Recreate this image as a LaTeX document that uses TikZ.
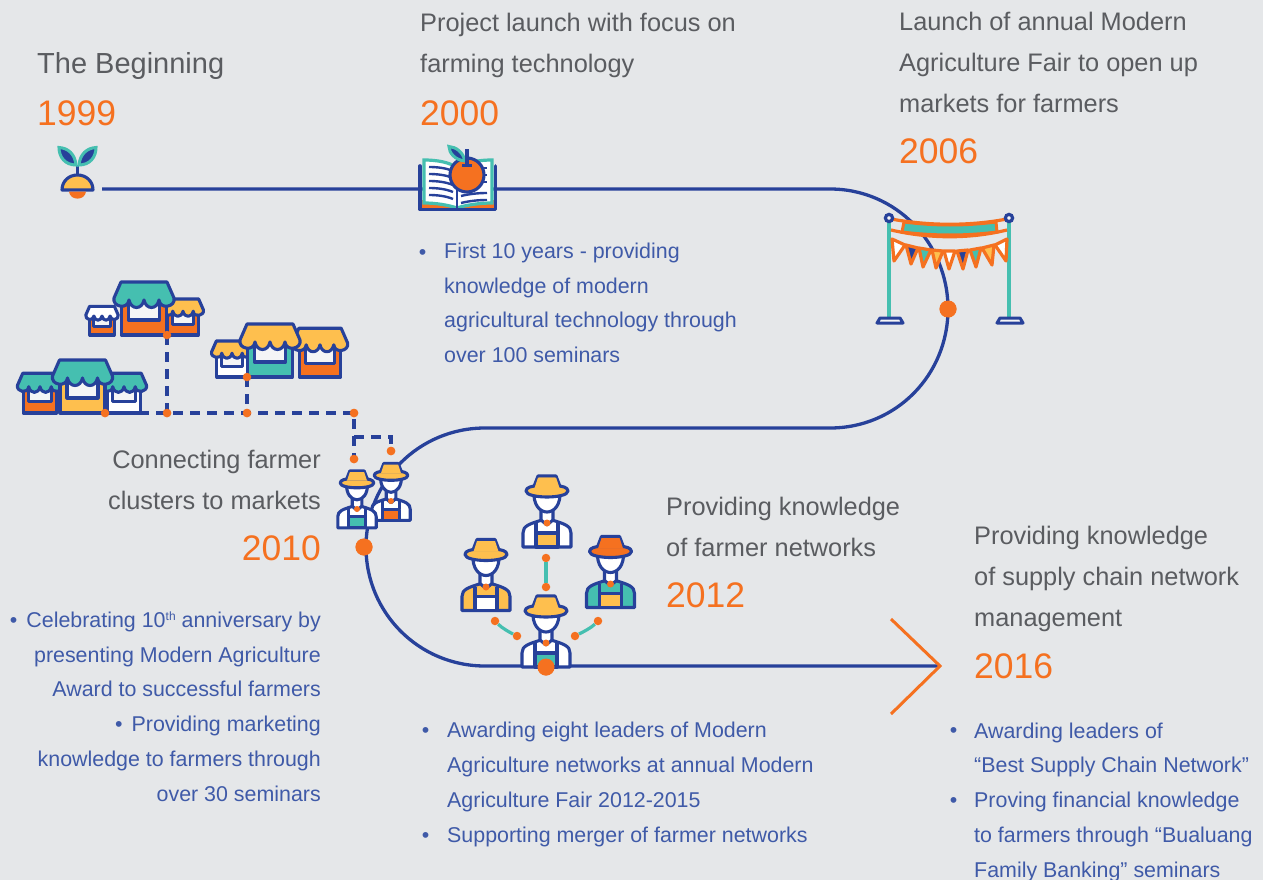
\documentclass[tikz,border=0pt]{standalone}
\usepackage{fontspec}
\setmainfont{Liberation Sans}
\definecolor{bgc}{HTML}{E5E7E9}
\definecolor{navy}{HTML}{27419A}
\definecolor{orng}{HTML}{F57120}
\definecolor{teal2}{HTML}{45BFB0}
\definecolor{yell}{HTML}{FEBF4E}
\definecolor{headc}{HTML}{5A5C60}
\definecolor{bodyc}{HTML}{3F5AA8}
\tikzset{
  headtxt/.style={inner sep=0pt,text=headc,font=\fontsize{25.35}{41}\selectfont},
  yeartxt/.style={inner sep=0pt,text=orng,font=\fontsize{35.5}{41}\selectfont},
  bodytxt/.style={inner sep=0pt,text=bodyc,font=\fontsize{21.4}{34.7}\selectfont},
  bul/.style={inner sep=0pt,text=bodyc,font=\fontsize{21.4}{34.7}\selectfont},
  bigdot/.style={circle,fill=orng,inner sep=0pt,minimum size=17pt},
  smalldot/.style={circle,fill=orng,inner sep=0pt,minimum size=8.5pt},
  mainline/.style={draw=navy,line width=3.3pt},
  dashline/.style={draw=navy,line width=3.2pt,dash pattern=on 10pt off 7pt},
  linkline/.style={draw=teal2,line width=3.2pt},
  icon/.style={draw=navy,line width=3.1pt,line join=round}
}
% shop: x, base y, scale, wall, roof
\newcommand{\shopicon}[5]{%
\begin{scope}[shift={(#1,#2)},scale=#3]
 \path[icon,fill=#4] (-22.5,0) rectangle (22.5,-36);
 \path[icon,fill=bgc!40!white] (-15.5,-36) rectangle (15.5,-15);
 \path[icon,fill=#5] (-23,-53) -- (23,-53) -- (30,-37)
   .. controls (32,-28) and (16,-25) .. (15,-35)
   .. controls (13,-25) and (2,-25) .. (0,-35)
   .. controls (-2,-25) and (-13,-25) .. (-15,-35)
   .. controls (-16,-25) and (-32,-28) .. (-30,-37) -- cycle;
\end{scope}}
% farmer: cx, top y, scale, hat, sleeve/chest, bib
\newcommand{\farmericon}[6]{%
\begin{scope}[shift={(#1,#2)},scale=#3]
 \path[icon,fill=#5] (-24,71) -- (-24,57) .. controls (-24,50) and (-18,48) .. (-5,44)
   -- (5,44) .. controls (18,48) and (24,50) .. (24,57) -- (24,71) -- cycle;
 \path[icon,fill=#6] (-11,57) rectangle (11,71);
 \path[icon] (-11,57) -- (-11,47) (11,57) -- (11,47);
 \path[icon,fill=white] (-6,33) -- (-6,44) -- (0,49) -- (6,44) -- (6,33) -- cycle;
 \path[icon,fill=white] (-13,15) .. controls (-14,29) and (-7,36) .. (0,36)
   .. controls (7,36) and (14,29) .. (13,15) -- cycle;
 \path[icon,fill=#4] (-9,0) -- (9,0) -- (14,13) -- (-14,13) -- cycle;
 \path[icon,fill=#4] (-21,15) .. controls (-21,11) and (-14,10) .. (-11,10) -- (11,10) .. controls (14,10) and (21,11) .. (21,15) .. controls (21,19) and (10,21) .. (0,21) .. controls (-10,21) and (-21,19) .. (-21,15) -- cycle;
 \fill[#4] (-9,1.5) -- (9,1.5) -- (12.5,12) -- (-12.5,12) -- cycle;
\end{scope}}
\begin{document}
\begin{tikzpicture}[x=1pt,y=-1pt]
\useasboundingbox[fill=bgc] (0,0) rectangle (1263,880);

% anchors of the main line
\coordinate (lstart) at (102,189);
\coordinate (b1) at (830,189);
\coordinate (b2) at (830,428);
\coordinate (b3) at (485,428);
\coordinate (b4) at (485,666);
\coordinate (tip) at (940,666);
\coordinate (chevA) at (891,619);
\coordinate (chevB) at (891,714);
\node[bigdot] (d2006) at (948,309) {};
\node[bigdot] (d2010) at (364,547) {};
\node[bigdot] (d2012) at (546,667) {};

\draw[mainline] (lstart) -- (b1)
  .. controls (896,189) and (948,243) .. (d2006.center)
  .. controls (948,375) and (896,428) .. (b2) -- (b3)
  .. controls (419,428) and (366,481) .. (366,547)
  .. controls (366,613) and (419,666) .. (b4) -- (tip);
\draw[draw=orng,line width=3pt] (chevA) -- (tip) -- (chevB);

% dashed network (drawn under the shops)
\node[smalldot] (n1) at (105,413) {};
\node[smalldot] (n2) at (167,413) {};
\node[smalldot] (n3) at (247,413) {};
\node[smalldot] (n4) at (354,413) {};
\node[smalldot] (n5) at (167,335) {};
\node[smalldot] (n6) at (247,377) {};
\node[smalldot] (n7) at (354,459) {};
\node[smalldot] (n8) at (391,451) {};
\coordinate (kneeA) at (354,437);
\coordinate (kneeB) at (391,437);
\draw[dashline] (n1.center) -- (n2.center) -- (n3.center) -- (n4.center) -- (n7.center);
\draw[dashline] (n5.center) -- (n2.center);
\draw[dashline] (n6.center) -- (n3.center);
\draw[dashline] (kneeA) -- (kneeB) -- (n8.center);

% seedling
\path[icon,fill=yell] (62,190) .. controls (62,181) and (69,175) .. (77.5,175) .. controls (86,175) and (93,181) .. (93,190) -- cycle;
\fill[orng] (69,191.5) .. controls (70,201) and (85,201) .. (86,191.5) -- cycle;
\draw[navy,line width=3.2pt] (77.5,175) -- (77.5,165);
\path[draw=teal2,line width=3pt,fill=navy] (76,165) .. controls (75,154) and (68,148) .. (59,147.5) .. controls (59,157) and (65,165) .. (76,165) -- cycle;
\path[draw=teal2,line width=3pt,fill=navy] (79,165) .. controls (80,154) and (87,148) .. (96,147.5) .. controls (96,157) and (90,165) .. (79,165) -- cycle;

% book
\fill[orng] (421,200) rectangle (495,209);
\path[draw=teal2,line width=3.2pt,fill=white] (424,160) .. controls (436,160) and (450,162) .. (457,168) .. controls (465,162) and (480,160) .. (492,160) -- (492,203) .. controls (480,203) and (466,205) .. (457,208) .. controls (448,205) and (436,203) .. (424,203) -- cycle;
\draw[navy,line width=3.6pt,line cap=round,line join=round] (420,166) -- (420,209.5) -- (495.5,209.5) -- (495.5,166);
\draw[navy,line width=2.8pt] (457,168) -- (457,208.5);
\foreach \yy in {167,174,181,188,195}{
  \draw[navy,line width=2.4pt] (429,\yy) .. controls (437,\yy) and (446,\yy+1) .. (453,\yy+4);
}
\foreach \yy in {193,200}{
  \draw[navy,line width=2.4pt] (461,\yy+3) .. controls (469,\yy+1) and (478,\yy) .. (487,\yy);
}
\foreach \yy in {168,175,182}{
  \draw[navy,line width=2.4pt] (482,\yy) -- (487,\yy);
}
\path[icon,fill=orng] (467,175) circle [radius=17];
\path[draw=teal2,line width=3pt,fill=navy] (465,161) .. controls (463,152) and (456,147) .. (449,146.5) .. controls (449,153) and (455,160) .. (465,161) -- cycle;
\draw[navy,line width=3.2pt] (467,149) -- (467,165);
\draw[navy,line width=3pt] (462,165) -- (472,165);

% bunting
\draw[teal2,line width=3.4pt] (889,220) -- (889,318);
\draw[teal2,line width=3.4pt] (1009,220) -- (1009,318);
\path[draw=navy,line width=3pt,line join=round,fill=bgc!40!white] (877,323) -- (880,318) -- (900,318) -- (903,323) -- cycle;
\path[draw=navy,line width=3pt,line join=round,fill=bgc!40!white] (997,323) -- (1000,318) -- (1020,318) -- (1023,323) -- cycle;
\path[draw=orng,line width=3pt,fill=teal2] (904,222) .. controls (935,226) and (965,226) .. (996,222) -- (997,232) .. controls (965,236) and (935,236) .. (902,232) -- cycle;
\draw[orng,line width=3.2pt] (891,219) .. controls (930,226) and (970,226) .. (1007,219);
\draw[orng,line width=3.2pt] (891,230) .. controls (930,239) and (970,239) .. (1007,230);
\foreach \xa/\ya/\xb/\yb/\xc/\yc/\cc in {
  892/239/905/245/894/261/white,
  906/245/918/248/911/264/navy,
  919/248/931/250/923/267/teal2,
  932/250/943/251/936/268/yell,
  944/251/955/251/949/269/white,
  957/251/968/250/963/269/navy,
  970/250/981/248/976/267/teal2,
  982/248/994/245/992/265/yell,
  995/245/1007/239/1006/261/white}{
  \path[draw=orng,line width=3.2pt,line join=round,fill=\cc] (\xa,\ya) -- (\xb,\yb) -- (\xc,\yc) -- cycle;
}
\path[draw=navy,line width=3.2pt,fill=bgc!40!white] (889,218) circle [radius=3.6];
\path[draw=navy,line width=3.2pt,fill=bgc!40!white] (1009,218) circle [radius=3.6];

% shops
\shopicon{40}{413}{.75}{orng}{teal2}
\shopicon{124}{413}{.75}{white}{teal2}
\shopicon{82.5}{413}{1}{yell}{teal2}
\shopicon{102}{335}{.54}{orng}{white}
\shopicon{183}{335}{.68}{orng}{yell}
\shopicon{144}{335}{1}{orng}{teal2}
\shopicon{232}{377}{.68}{white}{yell}
\shopicon{320}{377}{.92}{orng}{yell}
\shopicon{270}{377}{1}{teal2}{yell}
\node[smalldot] at (n1) {};\node[smalldot] at (n5) {};\node[smalldot] at (n6) {};
\node[smalldot] at (n2) {};\node[smalldot] at (n3) {};\node[smalldot] at (n4) {};
\node[smalldot] at (n7) {};\node[smalldot] at (n8) {};

% farmers
\node[smalldot] (f1) at (546,558) {};
\node[smalldot] (f2) at (546,587) {};
\node[smalldot] (f3) at (495,621) {};
\node[smalldot] (f4) at (517,636) {};
\node[smalldot] (f5) at (598,621) {};
\node[smalldot] (f6) at (575,636) {};
\draw[linkline] (f1) -- (f2);
\draw[linkline] (f3) .. controls (502,628) and (509,632) .. (f4);
\draw[linkline] (f5) .. controls (591,628) and (583,632) .. (f6);
\farmericon{391}{463.5}{.8}{yell}{white}{orng}
\farmericon{357}{471}{.8}{yell}{white}{teal2}
\farmericon{547}{476}{1}{yell}{white}{yell}
\farmericon{486}{539.5}{1}{yell}{yell}{white}
\farmericon{610.5}{536.5}{1}{orng}{teal2}{yell}
\farmericon{546}{596}{1}{yell}{white}{teal2}
\foreach \px/\py/\dd in {391/501/6,357/509/6,547/523/7,486/587/7,610.5/584/7,546/643/7}{
  \fill[orng] (\px,\py) circle [radius=\dd/2];
}
\node[bigdot] at (d2010) {};
\node[bigdot] at (d2012) {};
\node[bigdot] at (d2006) {};

% headings and years
\node[headtxt,anchor=base west,font=\fontsize{29}{41}\selectfont] (h1999) at (37,74) {The Beginning};
\node[yeartxt,anchor=base west] (y1999) at (37,125) {1999};
\node[headtxt,anchor=base west,align=left] (h2000) at (420,73) {Project launch with focus on\\farming technology};
\node[yeartxt,anchor=base west] (y2000) at (420,125) {2000};
\node[headtxt,anchor=base west,align=left] (h2006) at (899,113) {Launch of annual Modern\\Agriculture Fair to open up\\markets for farmers};
\node[yeartxt,anchor=base west] (y2006) at (899,164) {2006};
\node[headtxt,anchor=base east,align=right] (h2010) at (321,509) {Connecting farmer\\clusters to markets};
\node[yeartxt,anchor=base east] (y2010) at (321,560) {2010};
\node[headtxt,anchor=base west,align=left] (h2012) at (666,556) {Providing knowledge\\of farmer networks};
\node[yeartxt,anchor=base west] (y2012) at (666,607) {2012};
\node[headtxt,anchor=base west,align=left] (h2016) at (974,626) {Providing knowledge\\of supply chain network\\management};
\node[yeartxt,anchor=base west] (y2016) at (974,678) {2016};

% body texts
\node[bul,anchor=base] (b0a) at (422.5,259) {•};
\node[bodytxt,anchor=base west,align=left] (t2000) at (444,362.5) {First 10 years - providing\\knowledge of modern\\agricultural technology through\\over 100 seminars};
\node[bodytxt,anchor=base east,align=right] (t2010) at (321,801) {•\hspace{9pt}Celebrating 10\raisebox{7pt}{\fontsize{12}{12}\selectfont th} anniversary by\\presenting Modern Agriculture\\Award to successful farmers\\•\hspace{9pt}Providing marketing\\knowledge to farmers through\\over 30 seminars};
\node[bul,anchor=base] (b2a) at (425.5,737) {•};
\node[bul,anchor=base] (b2b) at (425.5,842) {•};
\node[bodytxt,anchor=base west,align=left] (t2012) at (447,842) {Awarding eight leaders of Modern\\Agriculture networks at annual Modern\\Agriculture Fair 2012-2015\\Supporting merger of farmer networks};
\node[bul,anchor=base] (b3a) at (953.5,737) {•};
\node[bul,anchor=base] (b3b) at (953.5,807) {•};
\node[bodytxt,anchor=base west,align=left] (t2016) at (974,877) {Awarding leaders of\\“Best Supply Chain Network”\\Proving financial knowledge\\to farmers through “Bualuang\\Family Banking” seminars};
\end{tikzpicture}
\end{document}
